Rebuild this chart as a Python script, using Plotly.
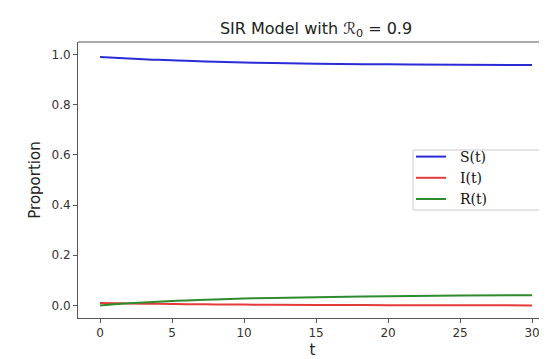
import plotly.graph_objects as go

# data
t = [0, 1, 2, 3, 4, 5, 6, 8, 10, 12, 15, 20, 25, 30]
S = [0.990, 0.987, 0.984, 0.981, 0.979, 0.977, 0.975, 0.971, 0.968, 0.966, 0.963, 0.961, 0.959, 0.958]
I = [0.010, 0.009, 0.008, 0.0072, 0.0065, 0.0058, 0.0052, 0.0042, 0.0034, 0.0027, 0.0019, 0.0011, 0.0006, 0.0003]
R = [0.000, 0.0045, 0.0085, 0.0120, 0.0150, 0.0175, 0.0198, 0.0240, 0.0275, 0.0300, 0.0330, 0.0370, 0.0395, 0.0410]

series_names = ["S(t)", "I(t)", "R(t)"]
series_colors = ["#2b2bd6", "#e53a3a", "#2e8b2e"]
x_ticks = [0, 5, 10, 15, 20, 25, 30]
y_ticks = [0.0, 0.2, 0.4, 0.6, 0.8, 1.0]

fig = go.Figure()
for name, vals, col in zip(series_names, [S, I, R], series_colors):
    fig.add_trace(go.Scatter(x=t, y=vals, mode="lines", name="\u00a0\u00a0" + name,
                             line=dict(color=col, width=2, shape="spline")))

OFF = 8  # page body margin
W, H = 547 - OFF, 359 - OFF
# plot area in reference pixels: x 78..547, y 42..318
ml, mr, mt, mb = 78 - OFF, 0, 42 - OFF, 359 - 318
pw, ph = W - ml - mr, H - mt - mb

def px_x(x):  # reference pixel -> paper
    return (x - OFF - ml) / pw

def px_y(y):
    return (H - mb - (y - OFF)) / ph

axis_common = dict(showgrid=False, zeroline=False, showline=True, linecolor="#555555",
                   linewidth=1, ticks="outside", ticklen=4, tickcolor="#555555", automargin=False,
                   tickfont=dict(family="DejaVu Sans", size=12, color="#333333"))

fig.update_layout(
    width=W, height=H,
    margin=dict(l=ml, r=mr, t=mt, b=mb, pad=0, autoexpand=False),
    paper_bgcolor="white", plot_bgcolor="white",
    title=dict(text="SIR Model with ℛ<sub>0</sub> = 0.9", xref="paper", x=px_x(316), xanchor="center",
               yref="container", y=1 - (28 - OFF) / H, yanchor="middle",
               font=dict(family="DejaVu Sans", size=16, color="#222222")),
    xaxis=dict(range=[-1.53, 31.04], tickvals=x_ticks, ticktext=[str(v) for v in x_ticks],
               title=dict(text="t", standoff=5, font=dict(family="DejaVu Sans", size=15, color="#222222")),
               **axis_common),
    yaxis=dict(range=[-0.05, 1.05], tickvals=y_ticks, ticktext=[f"{v:.1f}" for v in y_ticks],
               title=dict(text="Proportion", standoff=7, font=dict(family="DejaVu Sans", size=15, color="#222222")),
               **axis_common),
    legend=dict(x=px_x(411), xanchor="left", y=px_y(178), yanchor="middle",
                bgcolor="rgba(0,0,0,0)", borderwidth=0, tracegroupgap=0,
                font=dict(family="DejaVu Serif", size=14, color="#111111")),
    showlegend=True,
)
# top spine
fig.add_shape(type="line", xref="paper", yref="paper", x0=0, x1=1, y0=1, y1=1,
              line=dict(color="#555555", width=1))
# legend frame
fig.add_shape(type="rect", xref="paper", yref="paper", layer="below",
              x0=px_x(413), x1=px_x(546), y0=px_y(210), y1=px_y(150),
              line=dict(color="#cccccc", width=1), fillcolor="white")

fig.write_html("out.html")
